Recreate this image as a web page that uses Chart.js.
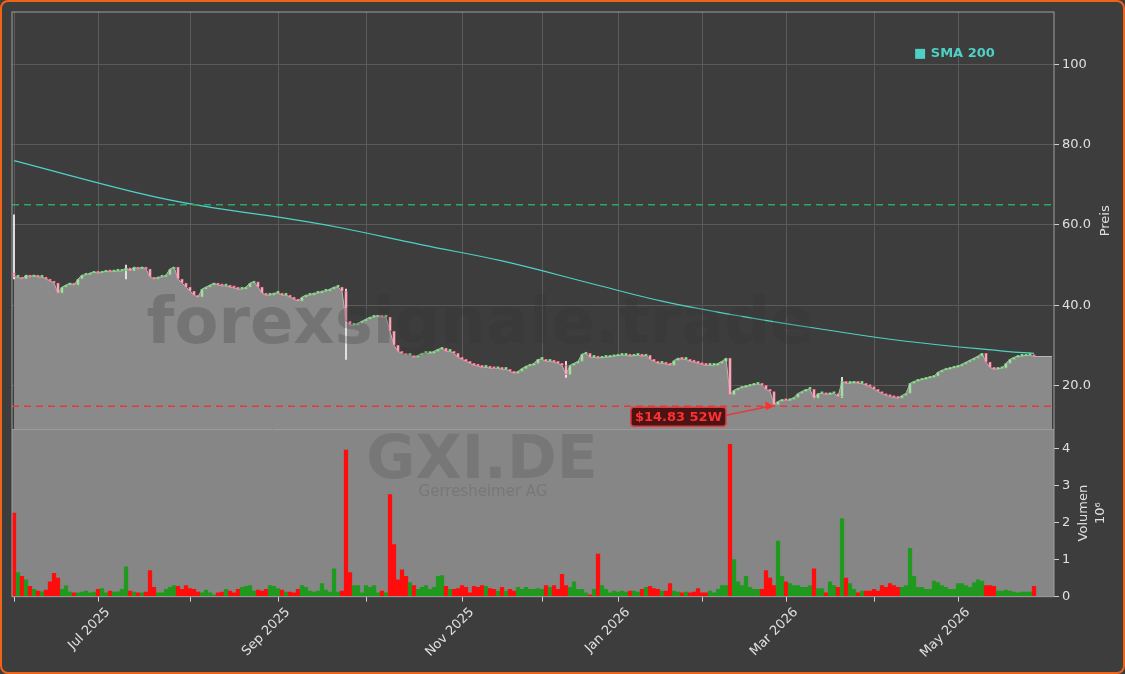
<!DOCTYPE html>
<html>
<head>
<meta charset="utf-8">
<script src="https://cdn.jsdelivr.net/npm/chart.js@4/dist/chart.umd.min.js"></script>
<style>
html, body { margin: 0; padding: 0; background: #3d3d3d; }
#wrap { width: 1121px; height: 670px; border: 2px solid #f06418; border-radius: 8px; background: #3d3d3d; position: relative; }
canvas { position: absolute; left: -2px; top: -2px; }
</style>
</head>
<body>
<div id="wrap"><canvas id="chart" width="1125" height="674"></canvas></div>
<script>
// trading-day index -> month tick
const monthTicks = [0, 21, 44, 66, 88, 112, 132, 151, 172, 193, 215, 236]
const monthLabels = ['', 'Jul 2025', '', 'Sep 2025', '', 'Nov 2025', '', 'Jan 2026', '', 'Mar 2026', '', 'May 2026']

const firstOpen = 48
const closes = [
	47, 47, 46.5, 47.5, 47, 47.5, 47, 47, 46.5, 46,
	45.5, 43, 44.5, 45, 45.5, 45, 46.5, 47.5, 47.5, 48,
	48.2, 48, 48.2, 48.5, 48.3, 48.5, 48.5, 48.5, 49.3, 48.5,
	49.5, 49, 49.5, 49, 47, 46.5, 47, 47, 47.5, 49,
	49.5, 46.5, 45.5, 44.5, 43.5, 42.5, 42, 44, 44.5, 45,
	45.5, 45, 44.8, 44.8, 44.5, 44.3, 44, 44, 44.5, 45.5,
	45.8, 44.5, 43, 42.5, 42.5, 43, 43, 42.5, 42.5, 42,
	41.5, 41, 42, 42.5, 42.5, 43, 43, 43.5, 43.5, 44,
	44.5, 44.5, 43.5, 36, 35, 35, 35.5, 36, 36.5, 37,
	37, 37.5, 37, 37, 33.5, 30, 28.5, 28, 27.5, 27.5,
	27, 27.5, 28, 28, 28, 28.5, 29, 29.3, 28.5, 28.5,
	28, 27, 26.5, 26, 25.5, 25, 24.8, 24.5, 24.5, 24.3,
	24.2, 24.3, 24, 24, 23.5, 23, 23.5, 24.2, 24.8, 25,
	25.5, 26.5, 26.5, 26, 26, 25.8, 25.5, 25, 22.7, 25,
	25.5, 26, 27.8, 28, 27, 27, 26.8, 27, 27, 27.2,
	27.3, 27.5, 27.5, 27.5, 27.3, 27.5, 27.5, 27.3, 27.5, 26.5,
	26, 25.5, 25.5, 25.3, 25, 26.2, 26.8, 26.5, 26.5, 26,
	25.8, 25.5, 25.2, 25, 25, 25, 25.5, 26, 26.8, 17.7,
	18.8, 19.3, 19.5, 19.8, 20, 20.3, 20.3, 20, 19, 18.5,
	15.2, 16, 16.5, 16.2, 16.5, 17, 18, 18.5, 19, 19,
	16.8, 18, 18, 17.7, 18, 18, 17.2, 21, 20.5, 20.5,
	21, 20.5, 20.5, 20, 19.7, 19, 18.5, 18, 17.5, 17.2,
	17, 16.8, 17.5, 18, 20.5, 21, 21.3, 21.5, 21.8, 22,
	22.3, 23.3, 23.8, 24, 24.3, 24.5, 24.8, 25.3, 25.8, 26.3,
	26.8, 27.3, 28, 25.8, 24.5, 24, 24.2, 24.3, 25.5, 26.5,
	27, 27.3, 27.3, 27.5, 27.5, 27.2
]

const volumes = [
	2.25, .65, .55, .45, .28, .2, .15, .13, .18, .4, .63, .5, .2, .29, .12, .1,
	.1, .12, .15, .1, .12, .2, .22, .1, .15, .12, .13, .2, .8, .15, .12, .1,
	.1, .12, .7, .25, .1, .1, .2, .25, .3, .28, .2, .3, .22, .2, .12, .1,
	.18, .1, .05, .1, .12, .2, .15, .1, .2, .25, .28, .3, .15, .18, .15, .2,
	.3, .28, .22, .18, .12, .12, .1, .2, .3, .25, .15, .12, .15, .35, .18, .12,
	.75, .12, .15, 3.95, .65, .3, .3, .1, .3, .25, .3, .1, .15, .1, 2.75, 1.4,
	.45, .72, .55, .38, .3, .2, .25, .3, .2, .25, .55, .57, .28, .2, .2, .22,
	.3, .25, .1, .28, .25, .3, .28, .22, .2, .15, .25, .15, .2, .15, .25, .2,
	.25, .2, .2, .22, .2, .3, .25, .3, .2, .6, .3, .25, .4, .2, .2, .1,
	.05, .2, 1.15, .3, .2, .1, .15, .12, .15, .12, .15, .15, .12, .2, .25, .28,
	.22, .2, .15, .15, .35, .15, .12, .1, .12, .1, .12, .22, .1, .1, .15, .1,
	.2, .3, .3, 4.1, 1.0, .4, .3, .55, .25, .2, .2, .2, .7, .5, .3, 1.5,
	.55, .4, .35, .3, .3, .25, .25, .3, .75, .22, .22, .1, .4, .3, .25, 2.1,
	.5, .35, .2, .1, .15, .15, .15, .2, .15, .3, .25, .35, .3, .25, .25, .3,
	1.3, .55, .25, .25, .2, .2, .42, .38, .3, .25, .2, .2, .35, .35, .3, .25,
	.38, .45, .42, .3, .3, .28, .15, .15, .18, .15, .12, .1, .12, .12, .12, .28
]

// long wicks [index, low, high]
const wicks = [[0, 46.5, 62.5], [28, 46.5, 50], [83, 26.5, 44], [138, 22, 26], [207, 17, 22]]

// SMA 200 read at [index, value]
const sma200 = [[0, 76], [32, 67.7], [47, 64.7], [72, 61], [82, 59.2], [102, 55], [122, 51],
	[147, 44.7], [162, 41], [182, 37.2], [202, 34], [223, 31], [248, 28.5], [255, 28]]

const resistance = 65
const low52w = 14.83
const areaEnd = 259.5

const n = closes.length
const opens = closes.map((c, i) => i == 0 ? firstOpen : closes[i - 1])
const up = closes.map((c, i) => c >= opens[i])
const area = closes.map((c, i) => ({ x: i, y: c }))
area.push({ x: areaEnd, y: closes[n - 1] })

const overlay = {
	id: 'overlay',
	beforeDatasetsDraw(chart) {
		const ctx = chart.ctx, x = chart.scales.x, yv = chart.scales.yv
		ctx.save()
		ctx.fillStyle = '#868686'
		ctx.fillRect(x.left, yv.top, x.right - x.left, yv.bottom - yv.top)
		ctx.textAlign = 'center'
		ctx.textBaseline = 'middle'
		ctx.fillStyle = 'rgba(110,110,110,0.6)'
		ctx.font = 'bold 60px "DejaVu Sans"'
		ctx.fillText('GXI.DE', 482, 462)
		ctx.font = '15px "DejaVu Sans"'
		ctx.fillText('Gerresheimer AG', 483, 492)
		ctx.restore()
	},
	afterDatasetsDraw(chart) {
		const ctx = chart.ctx, x = chart.scales.x, y = chart.scales.y, yv = chart.scales.yv
		ctx.save()
		ctx.fillStyle = 'rgba(50,50,50,0.25)'
		ctx.font = 'bold 64px "DejaVu Sans"'
		ctx.textAlign = 'center'
		ctx.textBaseline = 'middle'
		ctx.fillText('forexsignale.trade', 480, 326)
		ctx.textAlign = 'left'
		ctx.setLineDash([7, 5])
		ctx.lineWidth = 1.5
		ctx.strokeStyle = '#2fa866'
		let py = y.getPixelForValue(resistance)
		ctx.beginPath(); ctx.moveTo(x.left, py); ctx.lineTo(x.right, py); ctx.stroke()
		ctx.strokeStyle = '#e23b3b'
		py = y.getPixelForValue(low52w)
		ctx.beginPath(); ctx.moveTo(x.left, py); ctx.lineTo(x.right, py); ctx.stroke()
		ctx.setLineDash([])
		// 52W annotation
		const ax = x.getPixelForValue(190), ay = y.getPixelForValue(low52w)
		ctx.font = 'bold 13px "DejaVu Sans"'
		const label = '$' + low52w.toFixed(2) + ' 52W'
		const tw = ctx.measureText(label).width
		const bx = ax - 48 - tw - 8, by = ay + 1
		ctx.fillStyle = '#4a1414'
		ctx.strokeStyle = '#e23b3b'
		ctx.lineWidth = 1.5
		ctx.beginPath(); ctx.roundRect(bx, by, tw + 8, 19, 3); ctx.fill(); ctx.stroke()
		ctx.fillStyle = '#ff3030'
		ctx.textBaseline = 'middle'
		ctx.fillText(label, bx + 4, by + 10)
		ctx.beginPath(); ctx.moveTo(bx + tw + 8, by + 8); ctx.lineTo(ax - 4, ay); ctx.stroke()
		ctx.beginPath(); ctx.moveTo(ax, ay); ctx.lineTo(ax - 9, ay - 5); ctx.lineTo(ax - 8, ay + 4); ctx.closePath(); ctx.fill()
		// legend
		ctx.fillStyle = '#4fd1c5'
		ctx.font = 'bold 13px "DejaVu Sans"'
		ctx.fillText('■ SMA 200', 914, 54)
		// frame
		ctx.strokeStyle = '#a0a0a0'
		ctx.lineWidth = 1
		ctx.strokeRect(x.left, y.top, x.right - x.left, yv.bottom - y.top)
		ctx.beginPath(); ctx.moveTo(x.left, yv.top); ctx.lineTo(x.right, yv.top); ctx.stroke()
		// axis titles, reading bottom to top
		ctx.fillStyle = '#e0e0e0'
		ctx.font = '13px "DejaVu Sans"'
		ctx.textAlign = 'center'
		const title = (t, tx, ty) => { ctx.save(); ctx.translate(tx, ty); ctx.rotate(-Math.PI / 2); ctx.fillText(t, 0, 0); ctx.restore() }
		title('Preis', 1106, (y.top + y.bottom) / 2)
		title('Volumen', 1084, (yv.top + yv.bottom) / 2)
		title('10⁶', 1101, (yv.top + yv.bottom) / 2)
		ctx.restore()
	}
}

const yFit = (s) => { s.width = 67 }

new Chart(document.getElementById('chart'), {
	data: {
		datasets: [{
			type: 'line',
			label: 'SMA 200',
			data: sma200.map(p => ({ x: p[0], y: p[1] })),
			borderColor: '#4fd1c5',
			borderWidth: 1.2,
			pointRadius: 0,
			tension: 0.4,
			yAxisID: 'y',
			order: 0,
		}, {
			type: 'bar',
			label: 'Wicks',
			data: wicks.map(w => ({ x: w[0], y: [w[1], w[2]] })),
			backgroundColor: '#e8e8e8',
			barThickness: 1.2,
			grouped: false,
			yAxisID: 'y',
			order: 2,
		}, {
			type: 'bar',
			label: 'Candles',
			data: closes.map((c, i) => ({ x: i, y: [opens[i], c] })),
			backgroundColor: '#d8d8d8',
			borderColor: up.map(u => u ? '#6fd36f' : '#ff6b8e'),
			borderWidth: 1,
			borderSkipped: false,
			barThickness: 2.6,
			minBarLength: 2,
			grouped: false,
			yAxisID: 'y',
			order: 1,
		}, {
			type: 'line',
			label: 'Close',
			data: area,
			borderColor: '#b8b8b8',
			borderWidth: 1,
			backgroundColor: '#8a8a8a',
			fill: 'start',
			pointRadius: 0,
			yAxisID: 'y',
			order: 3,
		}, {
			type: 'bar',
			label: 'Volumen',
			data: volumes.map((v, i) => ({ x: i, y: v })),
			backgroundColor: up.map(u => u ? '#1f9a1f' : '#ff0d0d'),
			barThickness: 3.6,
			grouped: false,
			yAxisID: 'yv',
		}],
	},
	options: {
		animation: false,
		responsive: false,
		layout: { padding: { left: 12, top: 12, right: 4, bottom: 10 } },
		plugins: { legend: { display: false }, tooltip: { enabled: false } },
		scales: {
			x: {
				type: 'linear',
				offset: false,
				min: -0.5,
				max: 260,
				afterBuildTicks: (s) => { s.ticks = monthTicks.map(v => ({ value: v })) },
				ticks: {
					color: '#e0e0e0',
					font: { family: 'DejaVu Sans', size: 13 },
					minRotation: 45,
					maxRotation: 45,
					autoSkip: false,
					labelOffset: 10,
					callback: (v, i) => monthLabels[i],
				},
				grid: { offset: false, color: '#5a5a5a', tickColor: '#d0d0d0', tickLength: 5 },
				border: { display: false },
			},
			y: {
				position: 'right',
				stack: 'panes',
				stackWeight: 2.5,
				min: 9,
				max: 113,
				afterFit: yFit,
				afterBuildTicks: (s) => { s.ticks = [20, 40, 60, 80, 100].map(v => ({ value: v })) },
				ticks: {
					color: '#e0e0e0',
					font: { family: 'DejaVu Sans', size: 13 },
					callback: (v) => v >= 100 ? String(v) : v.toFixed(1),
				},
				grid: { color: '#5a5a5a', tickColor: '#d0d0d0', tickLength: 5 },
				border: { display: false },
			},
			yv: {
				position: 'right',
				stack: 'panes',
				stackWeight: 1,
				min: 0,
				max: 4.5,
				afterFit: yFit,
				afterBuildTicks: (s) => { s.ticks = [0, 1, 2, 3, 4].map(v => ({ value: v })) },
				ticks: { color: '#e0e0e0', font: { family: 'DejaVu Sans', size: 13 } },
				grid: { tickColor: '#d0d0d0', tickLength: 5, drawOnChartArea: false },
				border: { display: false },
			},
		},
	},
	plugins: [overlay],
})
</script>
</body>
</html>
